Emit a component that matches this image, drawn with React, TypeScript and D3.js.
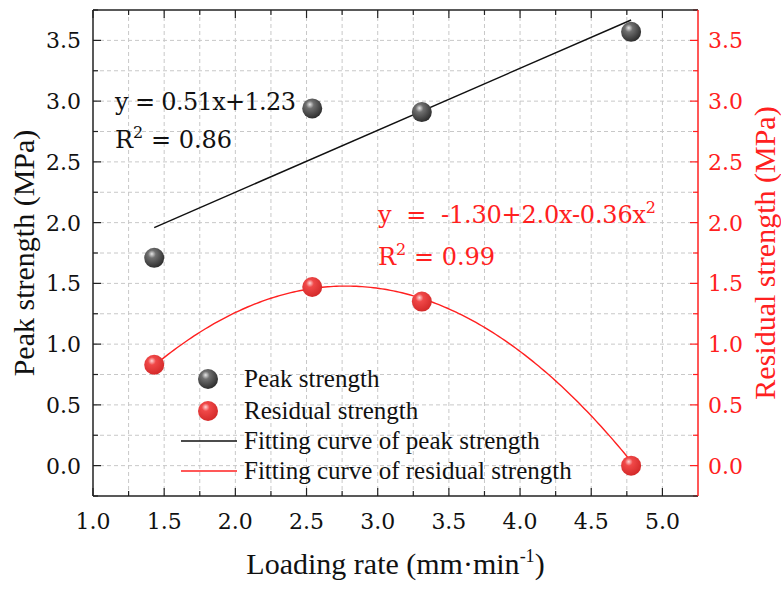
import React from "react";
import * as d3 from "d3";

// values
const loadingRate = [1.43, 2.54, 3.31, 4.78];
const peakStrength = [1.71, 2.94, 2.91, 3.57];
const residualStrength = [0.83, 1.47, 1.35, 0.0];

// fitting coefficients as printed on the chart
const peakFit = [1.23, 0.51]; // a + b x
const residualFit = [-1.3, 2.0, -0.36]; // a + b x + c x^2

const xMajorTicks = [1.0, 1.5, 2.0, 2.5, 3.0, 3.5, 4.0, 4.5, 5.0];
const yMajorTicks = [0.0, 0.5, 1.0, 1.5, 2.0, 2.5, 3.0, 3.5];

const legendLabels = [
  "Peak strength",
  "Residual strength",
  "Fitting curve of peak strength",
  "Fitting curve of residual strength",
];

const W = 781;
const H = 590;
const margin = { top: 10, right: 83, bottom: 94, left: 93 };
const FONT = "'Liberation Serif', 'DejaVu Serif', serif";
const DIGITS = "'DejaVu Serif', 'Liberation Serif', serif";
const RED = "#ff2020";

export default function App() {
  const x = d3.scaleLinear().domain([1, 5.25]).range([margin.left, W - margin.right]);
  const y = d3.scaleLinear().domain([-0.25, 3.75]).range([H - margin.bottom, margin.top]);
  const yR = d3.scaleLinear().domain([-0.25, 3.75]).range([H - margin.bottom, margin.top]);

  const x0 = x.range()[0], x1 = x.range()[1];
  const yb = y.range()[0], yt = y.range()[1];

  // grid at every quarter step
  const xGrid = d3.range(1.25, 5.01, 0.25);
  const yGrid = d3.range(0, 3.51, 0.25);
  const xMinor = xGrid.filter((v) => Math.abs(v * 2 - Math.round(v * 2)) > 0.01);
  const yMinor = d3.range(-0.25, 3.76, 0.25).filter((v) => Math.abs(v * 2 - Math.round(v * 2)) > 0.01);

  const peakLine = d3.line<number>()
    .x((d) => x(d))
    .y((d) => y(peakFit[0] + peakFit[1] * d));
  const xsFit = d3.range(loadingRate[0], loadingRate[3] + 0.001, 0.02);
  const resLine = d3.line<number>()
    .x((d) => x(d))
    .y((d) => yR(residualFit[0] + residualFit[1] * d + residualFit[2] * d * d));

  const fmt = d3.format(".1f");
  const majorLen = 8, minorLen = 5;

  const legendX = 208;
  const legendY = [379, 411, 441, 471];

  const serif = { fontFamily: FONT };
  const digits = { fontFamily: DIGITS };

  return (
    <svg width={W} height={H} style={{ position: "absolute", left: 0, top: 0, background: "#fff", fontFamily: FONT }}>
      <defs>
        <radialGradient id="ballDark" cx="40%" cy="35%" r="65%" fx="38%" fy="30%">
          <stop offset="0%" stopColor="#e6e6e6" />
          <stop offset="30%" stopColor="#707070" />
          <stop offset="100%" stopColor="#2e2e2e" />
        </radialGradient>
        <radialGradient id="ballRed" cx="40%" cy="35%" r="65%" fx="38%" fy="30%">
          <stop offset="0%" stopColor="#ffd6d6" />
          <stop offset="30%" stopColor="#f04848" />
          <stop offset="100%" stopColor="#d42a2a" />
        </radialGradient>
      </defs>

      {/* grid */}
      <g stroke="#c8c8c8" strokeWidth={1} strokeDasharray="4,3">
        {xGrid.map((v) => (
          <line key={"gx" + v} x1={x(v)} x2={x(v)} y1={yt} y2={yb} />
        ))}
        {yGrid.map((v) => (
          <line key={"gy" + v} x1={x0} x2={x1} y1={y(v)} y2={y(v)} />
        ))}
      </g>

      {/* ticks: bottom and top */}
      <g stroke="#222" strokeWidth={1.2}>
        {xMajorTicks.map((v) => (
          <g key={"xt" + v}>
            <line x1={x(v)} x2={x(v)} y1={yb} y2={yb - majorLen} />
            <line x1={x(v)} x2={x(v)} y1={yt} y2={yt + majorLen} />
          </g>
        ))}
        {xMinor.map((v) => (
          <g key={"xm" + v}>
            <line x1={x(v)} x2={x(v)} y1={yb} y2={yb - minorLen} />
            <line x1={x(v)} x2={x(v)} y1={yt} y2={yt + minorLen} />
          </g>
        ))}
        {yMajorTicks.map((v) => (
          <line key={"yt" + v} x1={x0} x2={x0 + majorLen} y1={y(v)} y2={y(v)} />
        ))}
        {yMinor.map((v) => (
          <line key={"ym" + v} x1={x0} x2={x0 + minorLen} y1={y(v)} y2={y(v)} />
        ))}
      </g>
      <g stroke={RED} strokeWidth={1.2}>
        {yMajorTicks.map((v) => (
          <line key={"rt" + v} x1={x1} x2={x1 - majorLen} y1={yR(v)} y2={yR(v)} />
        ))}
        {yMinor.map((v) => (
          <line key={"rm" + v} x1={x1} x2={x1 - minorLen} y1={yR(v)} y2={yR(v)} />
        ))}
      </g>

      {/* frame */}
      <line x1={x0} x2={x1} y1={yt} y2={yt} stroke="#222" strokeWidth={1.5} />
      <line x1={x0} x2={x1} y1={yb} y2={yb} stroke="#222" strokeWidth={1.5} />
      <line x1={x0} x2={x0} y1={yt} y2={yb} stroke="#222" strokeWidth={1.5} />
      <line x1={x1} x2={x1} y1={yt} y2={yb} stroke={RED} strokeWidth={1.5} />

      {/* tick labels */}
      <g fontSize={22} fill="#111" style={digits}>
        {xMajorTicks.map((v) => (
          <text key={"xl" + v} x={x(v)} y={yb + 33} textAnchor="middle">{fmt(v)}</text>
        ))}
        {yMajorTicks.map((v) => (
          <text key={"yl" + v} x={x0 - 12} y={y(v) + 8} textAnchor="end">{fmt(v)}</text>
        ))}
      </g>
      <g fontSize={22} fill={RED} style={digits}>
        {yMajorTicks.map((v) => (
          <text key={"rl" + v} x={x1 + 10} y={yR(v) + 8} textAnchor="start">{fmt(v)}</text>
        ))}
      </g>

      {/* axis titles */}
      <text x={(x0 + x1) / 2} y={574} textAnchor="middle" fontSize={30} fill="#111" style={serif}>
        Loading rate (mm·min<tspan dy={-12} fontSize={18}>-1</tspan><tspan dy={12}>)</tspan>
      </text>
      <text transform={`translate(34,${(yt + yb) / 2}) rotate(-90)`} textAnchor="middle" fontSize={30} fill="#111" style={serif}>
        Peak strength (MPa)
      </text>
      <text transform={`translate(775,${(yt + yb) / 2}) rotate(-90)`} textAnchor="middle" fontSize={30} fill={RED} style={serif}>
        Residual strength (MPa)
      </text>

      {/* fitting curves */}
      <path d={peakLine([loadingRate[0], loadingRate[3]]) || ""} fill="none" stroke="#111" strokeWidth={1.4} />
      <path d={resLine(xsFit) || ""} fill="none" stroke={RED} strokeWidth={1.4} />

      {/* data points */}
      {loadingRate.map((v, i) => (
        <circle key={"p" + i} cx={x(v)} cy={y(peakStrength[i])} r={10} fill="url(#ballDark)" />
      ))}
      {loadingRate.map((v, i) => (
        <circle key={"r" + i} cx={x(v)} cy={yR(residualStrength[i])} r={10} fill="url(#ballRed)" />
      ))}

      {/* equations */}
      <g fontSize={24} fill="#111" style={digits}>
        <text x={115} y={110} textLength={181} lengthAdjust="spacing">y = 0.51x+1.23</text>
        <text x={115} y={148}>R<tspan dy={-10} fontSize={16}>2</tspan><tspan dy={10}> = 0.86</tspan></text>
      </g>
      <g fontSize={24} fill={RED} style={digits}>
        <text x={378} y={223}>
          <tspan textLength={268} lengthAdjust="spacing" style={{ whiteSpace: "pre" }}>y  =  -1.30+2.0x-0.36x</tspan>
          <tspan dy={-10} fontSize={16}>2</tspan>
        </text>
        <text x={378} y={265}>R<tspan dy={-10} fontSize={16}>2</tspan><tspan dy={10}> = 0.99</tspan></text>
      </g>

      {/* legend */}
      <circle cx={legendX} cy={legendY[0]} r={10} fill="url(#ballDark)" />
      <circle cx={legendX} cy={legendY[1]} r={10} fill="url(#ballRed)" />
      <line x1={181} x2={237} y1={legendY[2]} y2={legendY[2]} stroke="#111" strokeWidth={1.4} />
      <line x1={181} x2={237} y1={legendY[3]} y2={legendY[3]} stroke={RED} strokeWidth={1.4} />
      <g fontSize={25} fill="#111" style={serif}>
        {legendLabels.map((t, i) => (
          <text key={t} x={244} y={legendY[i] + 8}>{t}</text>
        ))}
      </g>
    </svg>
  );
}
